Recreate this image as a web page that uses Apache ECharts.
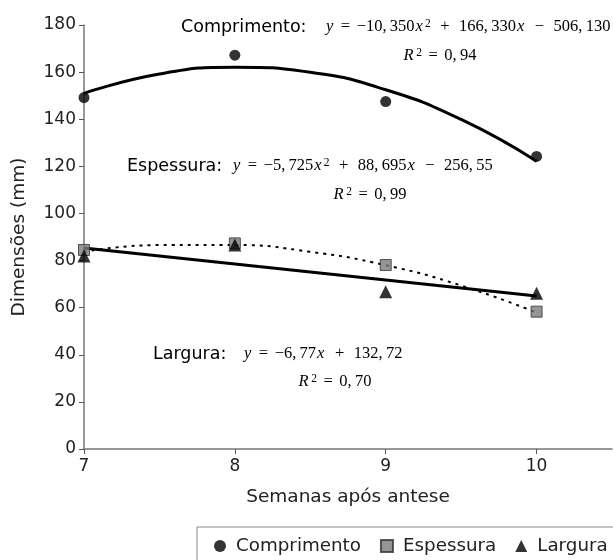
<!DOCTYPE html>
<html><head><meta charset="utf-8">
<script src="https://cdn.jsdelivr.net/npm/echarts@6/dist/echarts.min.js"></script>
<style>html,body{margin:0;padding:0;background:#fff}#c{width:613px;height:560px}</style>
</head><body><div id="c"></div>
<script>
const weeks = [7, 8, 9, 10];
const comprimento = [149.2, 167.2, 147.5, 124.2];
const espessura = [84.5, 87.3, 78.1, 58.3];
const largura = [81.9, 86.6, 66.8, 66.1];
// trend lines at half-week steps
const trendX = [7, 7.5, 8, 8.5, 9, 9.5, 10];
const trendComprimento = [151.0, 159.2, 162.1, 159.9, 152.5, 139.9, 122.2];
const trendEspessura = [83.8, 86.6, 86.6, 83.7, 78.0, 69.4, 57.9];
const trendLarguraX = [7, 10];
const trendLargura = [85.3, 65.0];
const xTicks = [7, 8, 9, 10];

const pair = (xs, ys) => xs.map((x, i) => [x, ys[i]]);
const sans = '"DejaVu Sans", Verdana, sans-serif';
const serif = '"Liberation Serif", "Times New Roman", serif';
const MS = 16.5;
const T = '\u2009';
const rich = {
  s: {fontFamily: sans, fontSize: 17.5, color: '#222'},
  m: {fontFamily: serif, fontSize: MS, color: '#222'},
  i: {fontFamily: serif, fontSize: MS, fontStyle: 'italic', color: '#222', padding: [0, 1, 0, 0]},
  x: {fontFamily: serif, fontSize: MS, fontStyle: 'italic', color: '#222', padding: [0, 1, 0, 1]},
  R: {fontFamily: serif, fontSize: MS, fontStyle: 'italic', color: '#222', padding: [0, 1.5, 0, 0]},
  e: {fontFamily: serif, fontSize: MS, color: '#222', padding: [0, 6.5, 0, 6.5]},
  o: {fontFamily: serif, fontSize: MS, color: '#222', padding: [0, 9.5, 0, 9.5]},
  p: {fontFamily: serif, fontSize: 11.5, color: '#222', verticalAlign: 'top', padding: [0, 0, 7, 1]}
};
function txt(x, y, t, align) {
  return {type: 'text', x: x, y: y, style: {text: t, rich: rich, align: align || 'left', verticalAlign: 'middle'}};
}
const chart = echarts.init(document.getElementById('c'));
chart.setOption({
  animation: false,
  grid: {left: 84, right: 1, top: 25, bottom: 111, containLabel: false},
  xAxis: {
    type: 'value', min: 7, max: 10.5, interval: 1,
    name: 'Semanas após antese', nameLocation: 'middle', nameGap: 39,
    nameTextStyle: {fontFamily: sans, fontSize: 18.5, color: '#222'},
    splitLine: {show: false},
    axisLine: {lineStyle: {color: '#777', width: 1.5}},
    axisTick: {show: true, length: 5, customValues: xTicks, lineStyle: {color: '#555'}},
    axisLabel: {customValues: xTicks, fontFamily: sans, fontSize: 17, color: '#222', margin: 9}
  },
  yAxis: {
    type: 'value', min: 0, max: 180, interval: 20,
    name: 'Dimensões (mm)', nameLocation: 'middle', nameGap: 55,
    nameTextStyle: {fontFamily: sans, fontSize: 18.5, color: '#222'},
    splitLine: {show: false},
    axisLine: {show: true, lineStyle: {color: '#777', width: 1.5}},
    axisTick: {show: true, length: 5, lineStyle: {color: '#555'}},
    axisLabel: {fontFamily: sans, fontSize: 17, color: '#222', margin: 8}
  },
  legend: {
    left: 197, top: 527, width: 420,
    data: ['Comprimento', 'Espessura', 'Largura'],
    borderColor: '#888', borderWidth: 1,
    padding: [10, 8, 14, 17], itemGap: 19, itemWidth: 12, itemHeight: 12,
    textStyle: {fontFamily: sans, fontSize: 18.3, color: '#222', padding: [0, 0, 0, 5]}
  },
  series: [
    {type: 'line', data: pair(trendX, trendComprimento), smooth: true, symbol: 'none', silent: true,
     lineStyle: {color: '#000', width: 3}, z: 2},
    {type: 'line', data: pair(trendX, trendEspessura), smooth: true, symbol: 'none', silent: true,
     lineStyle: {color: '#000', width: 2, type: [3, 5]}, z: 2},
    {type: 'line', data: pair(trendLarguraX, trendLargura), symbol: 'none', silent: true,
     lineStyle: {color: '#000', width: 3}, z: 2},
    {name: 'Comprimento', type: 'scatter', data: pair(weeks, comprimento), symbol: 'circle', symbolSize: 11,
     itemStyle: {color: '#000'}, z: 5},
    {name: 'Espessura', type: 'scatter', data: pair(weeks, espessura), symbol: 'rect', symbolSize: 11,
     itemStyle: {color: '#7a7a7a', borderColor: '#333', borderWidth: 1}, z: 4},
    {name: 'Largura', type: 'scatter', data: pair(weeks, largura), symbol: 'triangle', symbolSize: 13,
     itemStyle: {color: '#000'}, z: 6}
  ],
  graphic: [
    txt(181, 27, '{s|Comprimento:}'),
    txt(326, 27, '{i|y}{e|=}{m|−10,' + T + '350}{x|x}{p|2}{o|+}{m|166,' + T + '330}{x|x}{o|−}{m|506,' + T + '130}'),
    txt(440, 56, '{R|R}{p|2}{e|=}{m|0,' + T + '94}', 'center'),
    txt(127, 166, '{s|Espessura:}'),
    txt(233, 166, '{i|y}{e|=}{m|−5,' + T + '725}{x|x}{p|2}{o|+}{m|88,' + T + '695}{x|x}{o|−}{m|256,' + T + '55}'),
    txt(370, 195, '{R|R}{p|2}{e|=}{m|0,' + T + '99}', 'center'),
    txt(153, 354, '{s|Largura:}'),
    txt(244, 354, '{i|y}{e|=}{m|−6,' + T + '77}{x|x}{o|+}{m|132,' + T + '72}'),
    txt(335, 382, '{R|R}{p|2}{e|=}{m|0,' + T + '70}', 'center')
  ]
});
</script></body></html>
